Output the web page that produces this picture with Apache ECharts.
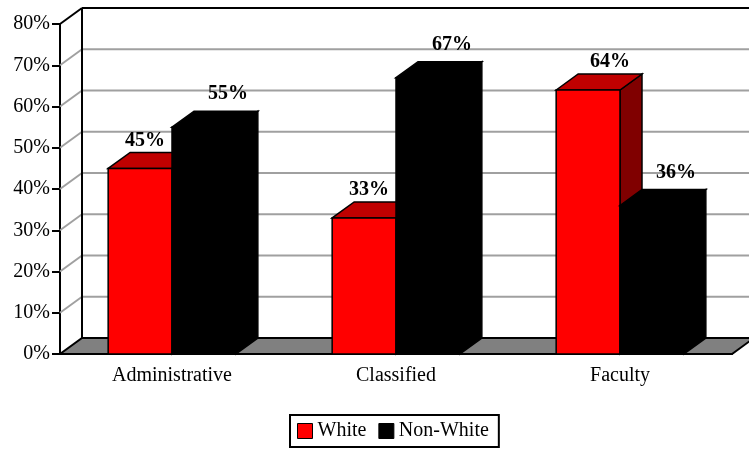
<!DOCTYPE html>
<html>
<head>
<meta charset="utf-8">
<script src="https://cdn.jsdelivr.net/npm/echarts@6/dist/echarts.min.js"></script>
<style>
html, body { margin: 0; padding: 0; background: #fff; }
#main { width: 749px; height: 450px; }
</style>
</head>
<body>
<div id="main"></div>
<script>
var categories = ['Administrative', 'Classified', 'Faculty'];
var white = [45, 33, 64];
var nonWhite = [55, 67, 36];
var yTicks = [0, 10, 20, 30, 40, 50, 60, 70, 80];

var FONT = "'Times New Roman', 'Liberation Serif', serif";
var DX = 22, DY = -16; // depth of the 3d box

var myChart = echarts.init(document.getElementById('main'));

// walls, gridlines and floor
function renderWall(params, api) {
	var cs = params.coordSys;
	var left = cs.x, right = cs.x + cs.width;
	var kids = [];
	var base = api.coord([0, yTicks[0]])[1];
	for (var k = 1; k < yTicks.length; k++) {
		var y = api.coord([0, yTicks[k]])[1];
		var top = k === yTicks.length - 1;
		var col = top ? '#000' : '#a0a0a0';
		kids.push({
			type: 'line',
			shape: { x1: left, y1: y, x2: left + DX, y2: y + DY },
			style: { stroke: col, lineWidth: 2 }
		});
		kids.push({
			type: 'line',
			shape: { x1: left + DX, y1: y + DY, x2: right + DX, y2: y + DY },
			style: { stroke: col, lineWidth: 2 }
		});
	}
	var yTop = api.coord([0, yTicks[yTicks.length - 1]])[1];
	kids.push({
		type: 'line',
		shape: { x1: left + DX, y1: yTop + DY, x2: left + DX, y2: base + DY },
		style: { stroke: '#000', lineWidth: 2 }
	});
	kids.push({
		type: 'polygon',
		shape: { points: [[left, base], [right, base], [right + DX, base + DY], [left + DX, base + DY]] },
		style: { fill: '#808080', stroke: '#000', lineWidth: 2 }
	});
	return { type: 'group', children: kids };
}

function makeBar(isWhite) {
	return function(params, api) {
		var i = api.value(0);
		var v = api.value(1);
		var c = api.coord([i, v]);
		var b = api.coord([i, 0]);
		var bw = api.size([1, 0])[0] * 0.285;
		var x0 = isWhite ? c[0] - bw : c[0];
		var top = c[1], bot = b[1];
		var front = isWhite ? '#ff0000' : '#000000';
		var topCol = isWhite ? '#c00000' : '#000000';
		var sideCol = isWhite ? '#800000' : '#000000';
		var lx, ly;
		if (isWhite && nonWhite[i] > white[i]) {
			lx = x0 + bw / 2 + 5;
			ly = top + DY - 12;
		} else {
			lx = x0 + bw / 2 + DX + (isWhite ? 0 : 2);
			ly = top + DY - (isWhite ? 12 : 17);
		}
		return {
			type: 'group',
			children: [{
				type: 'polygon',
				shape: { points: [[x0 + bw, top], [x0 + bw + DX, top + DY], [x0 + bw + DX, bot + DY], [x0 + bw, bot]] },
				style: { fill: sideCol, stroke: '#000', lineWidth: 1.5 }
			}, {
				type: 'polygon',
				shape: { points: [[x0, top], [x0 + DX, top + DY], [x0 + bw + DX, top + DY], [x0 + bw, top]] },
				style: { fill: topCol, stroke: '#000', lineWidth: 1.5 }
			}, {
				type: 'rect',
				shape: { x: x0, y: top, width: bw, height: bot - top },
				style: { fill: front, stroke: '#000', lineWidth: 1.5 }
			}, {
				type: 'text',
				x: lx,
				y: ly,
				style: {
					text: v + '%',
					fill: '#000',
					font: 'bold 20px ' + FONT,
					align: 'center',
					verticalAlign: 'middle'
				}
			}]
		};
	};
}

var option = {
	animation: false,
	backgroundColor: '#fff',
	textStyle: { fontFamily: FONT },
	grid: { left: 60, right: 17, top: 24, bottom: 96, containLabel: false },
	legend: {
		left: 290,
		bottom: 3,
		icon: 'rect',
		itemWidth: 15,
		itemHeight: 15,
		itemGap: 12,
		padding: [6, 10, 6, 7],
		borderColor: '#000',
		borderWidth: 2,
		itemStyle: { borderColor: '#000', borderWidth: 1 },
		textStyle: { fontFamily: FONT, fontSize: 20, color: '#000' },
		data: ['White', 'Non-White']
	},
	xAxis: {
		type: 'category',
		data: categories,
		axisLine: { lineStyle: { color: '#000', width: 2 } },
		axisTick: { length: 7, lineStyle: { color: '#000', width: 2 } },
		axisLabel: { color: '#000', fontSize: 20, fontFamily: FONT, margin: 12 },
		splitLine: { show: false }
	},
	yAxis: {
		type: 'value',
		min: 0,
		max: 80,
		interval: 10,
		axisLine: { show: true, lineStyle: { color: '#000', width: 2 } },
		axisTick: { show: true, length: 8, lineStyle: { color: '#000', width: 2 } },
		axisLabel: { color: '#000', fontSize: 20, fontFamily: FONT, margin: 10, formatter: '{value}%' },
		splitLine: { show: false }
	},
	series: [{
		type: 'custom',
		name: 'wall',
		z: 1,
		silent: true,
		renderItem: renderWall,
		data: [[0, 0]]
	}, {
		type: 'custom',
		name: 'White',
		z: 2,
		color: '#ff0000',
		itemStyle: { color: '#ff0000', borderColor: '#000', borderWidth: 1 },
		renderItem: makeBar(true),
		data: white.map(function(v, i) { return [i, v]; })
	}, {
		type: 'custom',
		name: 'Non-White',
		z: 3,
		color: '#000000',
		itemStyle: { color: '#000000', borderColor: '#000', borderWidth: 1 },
		renderItem: makeBar(false),
		data: nonWhite.map(function(v, i) { return [i, v]; })
	}]
};

myChart.setOption(option);
</script>
</body>
</html>
